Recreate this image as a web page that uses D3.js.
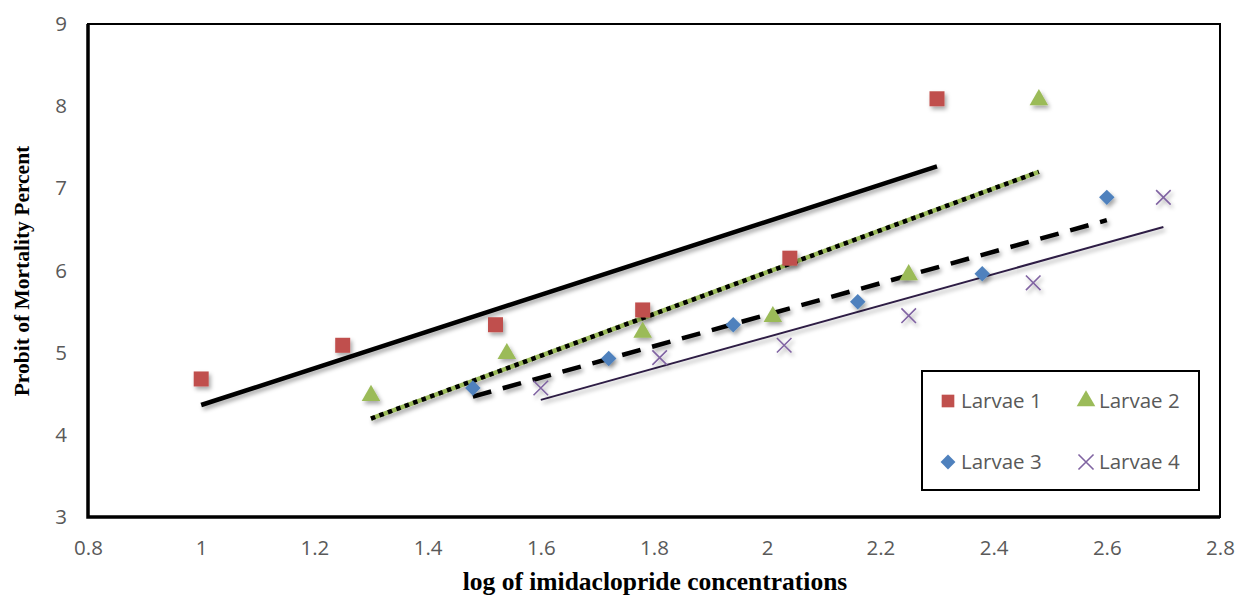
<!DOCTYPE html>
<html>
<head>
<meta charset="utf-8">
<script src="https://cdn.jsdelivr.net/npm/d3@7"></script>
<style>
  body { margin: 0; background: #fff; }
  svg { display: block; }
</style>
</head>
<body>
<script>
// data
const larvae1X = [1, 1.25, 1.52, 1.78, 2.04, 2.3];
const larvae1Y = [4.68, 5.09, 5.34, 5.52, 6.15, 8.09];
const larvae2X = [1.3, 1.54, 1.78, 2.01, 2.25, 2.48];
const larvae2Y = [4.49, 5.0, 5.26, 5.45, 5.96, 8.09];
const larvae3X = [1.48, 1.72, 1.94, 2.16, 2.38, 2.6];
const larvae3Y = [4.57, 4.93, 5.34, 5.62, 5.96, 6.89];
const larvae4X = [1.6, 1.81, 2.03, 2.25, 2.47, 2.7];
const larvae4Y = [4.57, 4.94, 5.09, 5.45, 5.85, 6.89];
const seriesNames = ['Larvae 1', 'Larvae 2', 'Larvae 3', 'Larvae 4'];
const xTicks = [0.8, 1, 1.2, 1.4, 1.6, 1.8, 2, 2.2, 2.4, 2.6, 2.8];
const yTicks = [3, 4, 5, 6, 7, 8, 9];

const width = 1238;
const height = 600;
const plot = { left: 88, top: 24, right: 1220, bottom: 517 };

const svg = d3.select('body')
    .append('svg')
    .attr('width', width)
    .attr('height', height);

const defs = svg.append('defs');
defs.append('filter')
    .attr('id', 'shadow')
    .attr('x', '-20%').attr('y', '-50%')
    .attr('width', '140%').attr('height', '200%')
    .append('feDropShadow')
    .attr('dx', 2).attr('dy', 3)
    .attr('stdDeviation', 2)
    .attr('flood-color', '#000')
    .attr('flood-opacity', 0.35);

const xScale = d3.scaleLinear()
    .domain([0.8, 2.8])
    .range([plot.left, plot.right]);

const yScale = d3.scaleLinear()
    .domain([3, 9])
    .range([plot.bottom, plot.top]);

// axes: only the tick labels are visible
const tickFont = '"Open Sans", "Noto Sans", sans-serif';
const xAxis = d3.axisBottom(xScale).tickValues(xTicks).tickSize(0).tickPadding(23)
    .tickFormat(d => String(+d.toFixed(1)));
const gx = svg.append('g')
    .attr('transform', 'translate(0,' + plot.bottom + ')')
    .call(xAxis);
gx.select('.domain').remove();
gx.selectAll('text')
    .attr('fill', '#595959')
    .style('font-family', tickFont)
    .style('font-size', '20.5px');

const yAxis = d3.axisLeft(yScale).tickValues(yTicks).tickSize(0).tickPadding(21)
    .tickFormat(d => String(d));
const gy = svg.append('g')
    .attr('transform', 'translate(' + plot.left + ',0)')
    .call(yAxis);
gy.select('.domain').remove();
gy.selectAll('text')
    .attr('fill', '#595959')
    .style('font-family', tickFont)
    .style('font-size', '20.5px');

// plot frame
svg.append('rect')
    .attr('x', plot.left).attr('y', plot.top)
    .attr('width', plot.right - plot.left)
    .attr('height', plot.bottom - plot.top)
    .attr('fill', 'none')
    .attr('stroke', '#000')
    .attr('stroke-width', 2);
svg.append('path')
    .attr('d', 'M' + plot.left + ',' + plot.top + 'V' + plot.bottom + 'H' + plot.right)
    .attr('fill', 'none')
    .attr('stroke', '#000')
    .attr('stroke-width', 3.5);

// least squares trend line between first and last x
function trend(xs, ys) {
    const mx = d3.mean(xs);
    const my = d3.mean(ys);
    const sxy = d3.sum(xs, (x, i) => (x - mx) * (ys[i] - my));
    const sxx = d3.sum(xs, x => (x - mx) * (x - mx));
    const b = sxy / sxx;
    const a = my - b * mx;
    const x0 = d3.min(xs);
    const x1 = d3.max(xs);
    return [[x0, a + b * x0], [x1, a + b * x1]];
}

const line = d3.line()
    .x(d => xScale(d[0]))
    .y(d => yScale(d[1]));

const lines = svg.append('g').attr('filter', 'url(#shadow)');

// Larvae 1: solid black
lines.append('path')
    .attr('d', line(trend(larvae1X, larvae1Y)))
    .attr('stroke', '#000').attr('stroke-width', 4.5).attr('fill', 'none');

// Larvae 2: green with black round dots
const t2 = trend(larvae2X, larvae2Y);
lines.append('path')
    .attr('d', line(t2))
    .attr('stroke', '#9BBB59').attr('stroke-width', 4.5).attr('fill', 'none');
lines.append('path')
    .attr('d', line(t2))
    .attr('stroke', '#000').attr('stroke-width', 4.5).attr('fill', 'none')
    .attr('stroke-dasharray', '4.5 4.5');

// Larvae 3: black dashed
lines.append('path')
    .attr('d', line(trend(larvae3X, larvae3Y)))
    .attr('stroke', '#000').attr('stroke-width', 4.5).attr('fill', 'none')
    .attr('stroke-dasharray', '19 12');

// Larvae 4: thin dark purple
lines.append('path')
    .attr('d', line(trend(larvae4X, larvae4Y)))
    .attr('stroke', '#2e1f45').attr('stroke-width', 2).attr('fill', 'none');

// markers
const markers = svg.append('g').attr('filter', 'url(#shadow)');

function points(xs, ys) {
    return xs.map((x, i) => [x, ys[i]]);
}

const sym = {
    square: d3.symbol().type(d3.symbolSquare).size(225),
    triangle: d3.symbol().type(d3.symbolTriangle).size(150),
    diamond: d3.symbol().type(d3.symbolSquare).size(120),
    cross: d3.symbol().type(d3.symbolTimes).size(140)
};

markers.selectAll('.l1').data(points(larvae1X, larvae1Y)).enter()
    .append('path')
    .attr('d', sym.square())
    .attr('transform', d => 'translate(' + xScale(d[0]) + ',' + yScale(d[1]) + ')')
    .attr('fill', '#C0504D');

markers.selectAll('.l2').data(points(larvae2X, larvae2Y)).enter()
    .append('path')
    .attr('d', sym.triangle())
    .attr('transform', d => 'translate(' + xScale(d[0]) + ',' + (yScale(d[1]) + 1) + ')')
    .attr('fill', '#9BBB59');

markers.selectAll('.l3').data(points(larvae3X, larvae3Y)).enter()
    .append('path')
    .attr('d', sym.diamond())
    .attr('transform', d => 'translate(' + xScale(d[0]) + ',' + yScale(d[1]) + ') rotate(45)')
    .attr('fill', '#4F81BD');

markers.selectAll('.l4').data(points(larvae4X, larvae4Y)).enter()
    .append('path')
    .attr('d', sym.cross())
    .attr('transform', d => 'translate(' + xScale(d[0]) + ',' + yScale(d[1]) + ')')
    .attr('fill', 'none')
    .attr('stroke', '#8064A2')
    .attr('stroke-width', 1.6);

// axis titles
svg.append('text')
    .attr('x', 655)
    .attr('y', 590)
    .attr('text-anchor', 'middle')
    .style('font-family', '"Liberation Serif", "Times New Roman", serif')
    .style('font-weight', 'bold')
    .style('font-size', '25.5px')
    .text('log of imidaclopride concentrations');

svg.append('text')
    .attr('transform', 'translate(29,' + 271 + ') rotate(-90)')
    .attr('text-anchor', 'middle')
    .style('font-family', '"Liberation Serif", "Times New Roman", serif')
    .style('font-weight', 'bold')
    .style('font-size', '21.5px')
    .text('Probit of Mortality Percent');

// legend
const legend = svg.append('g');
legend.append('rect')
    .attr('x', 922).attr('y', 371)
    .attr('width', 277).attr('height', 119)
    .attr('fill', '#fff')
    .attr('stroke', '#000')
    .attr('stroke-width', 2);

const legendPos = [[948, 401], [1086, 401], [948, 462], [1086, 462]];
const legendSym = [
    { d: sym.square.size(160)(), fill: '#C0504D', stroke: 'none', rot: 0 },
    { d: sym.triangle.size(150)(), fill: '#9BBB59', stroke: 'none', rot: 0 },
    { d: sym.diamond.size(110)(), fill: '#4F81BD', stroke: 'none', rot: 45 },
    { d: sym.cross.size(150)(), fill: 'none', stroke: '#8064A2', rot: 0 }
];

const items = legend.selectAll('.item').data(seriesNames).enter()
    .append('g')
    .attr('transform', (d, i) => 'translate(' + legendPos[i][0] + ',' + legendPos[i][1] + ')');

items.append('path')
    .attr('d', (d, i) => legendSym[i].d)
    .attr('transform', (d, i) => 'rotate(' + legendSym[i].rot + ')')
    .attr('fill', (d, i) => legendSym[i].fill)
    .attr('stroke', (d, i) => legendSym[i].stroke)
    .attr('stroke-width', 1.6);

items.append('text')
    .attr('x', 13)
    .attr('y', 7)
    .attr('fill', '#595959')
    .style('font-family', tickFont)
    .style('font-size', '20.5px')
    .text(d => d);
</script>
</body>
</html>
